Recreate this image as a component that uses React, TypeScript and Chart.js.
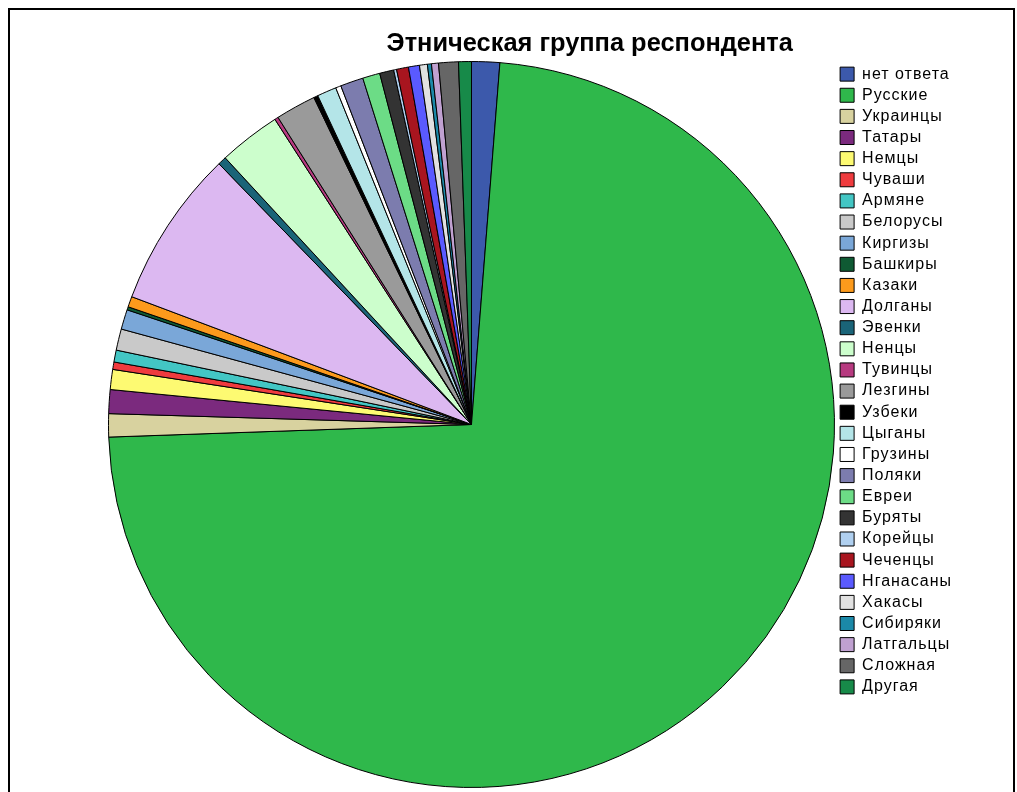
import React, { useEffect, useRef } from "react";
import { Chart, registerables } from "chart.js";

Chart.register(...registerables);

const TITLE = "Этническая группа респондента";

const categories = [
  "нет ответа", "Русские", "Украинцы", "Татары", "Немцы", "Чуваши", "Армяне",
  "Белорусы", "Киргизы", "Башкиры", "Казаки", "Долганы", "Эвенки", "Ненцы",
  "Тувинцы", "Лезгины", "Узбеки", "Цыганы", "Грузины", "Поляки", "Евреи",
  "Буряты", "Корейцы", "Чеченцы", "Нганасаны", "Хакасы", "Сибиряки",
  "Латгальцы", "Сложная", "Другая",
];

const values = [
  1.25, 73.22, 1.03, 1.06, 0.89, 0.33, 0.53,
  0.95, 0.88, 0.14, 0.47, 7.03, 0.38, 2.76,
  0.16, 1.8, 0.19, 0.86, 0.24, 1.02, 0.77,
  0.63, 0.13, 0.53, 0.49, 0.35, 0.18,
  0.31, 0.88, 0.57,
];

const colors = [
  "#3c59ab", "#2fb84b", "#d8d29f", "#7b2a7e", "#fdfa72", "#ef3b3e", "#43c6c4",
  "#c9c9c9", "#7aa7d8", "#0f5a33", "#fc9a1c", "#dcb8f1", "#1a6478", "#ccfecc",
  "#b73a80", "#9a9a9a", "#000000", "#b4e5e8", "#ffffff", "#7c7cae", "#6cdc86",
  "#333333", "#b0d0f0", "#a8151f", "#5a5aff", "#e1e1e1", "#1b89a8",
  "#c0a1d1", "#666666", "#178a49",
];

const titlePlugin = {
  id: "customTitle",
  afterDraw(chart: any) {
    const ctx = chart.ctx;
    ctx.save();
    (ctx as any).letterSpacing = "0px";
    ctx.font = "bold 25.4px 'Liberation Sans', Arial, sans-serif";
    ctx.fillStyle = "#000";
    ctx.textAlign = "center";
    ctx.textBaseline = "alphabetic";
    ctx.fillText(TITLE, chart.width * 0.578, 41);
    ctx.restore();
  },
};

const legendSpacingPlugin = {
  id: "legendSpacing",
  beforeLayout(chart: any) {
    (chart.ctx as any).letterSpacing = "1px";
  },
  afterLayout(chart: any) {
    (chart.ctx as any).letterSpacing = "0px";
  },
  beforeDraw(chart: any) {
    (chart.ctx as any).letterSpacing = "1px";
  },
  beforeDatasetsDraw(chart: any) {
    (chart.ctx as any).letterSpacing = "0px";
  },
};

export default function App() {
  const ref = useRef<HTMLCanvasElement>(null);

  useEffect(() => {
    if (!ref.current) return;
    const chart = new Chart(ref.current, {
      type: "pie",
      data: {
        labels: categories,
        datasets: [
          {
            data: values,
            backgroundColor: colors,
            borderColor: "#000000",
            borderWidth: 1,
          },
        ],
      },
      options: {
        responsive: false,
        animation: false,
        layout: { padding: { left: 98, right: 51, top: 51, bottom: 4 } },
        plugins: {
          title: { display: false },
          tooltip: { enabled: false },
          legend: {
            position: "right",
            align: "start",
            labels: {
              color: "#000000",
              boxWidth: 14,
              boxHeight: 14,
              padding: 5.13,
              font: { family: "'Liberation Sans', Arial, sans-serif", size: 16 },
            },
          },
        },
      },
      plugins: [titlePlugin, legendSpacingPlugin],
    });
    return () => chart.destroy();
  }, []);

  return (
    <div
      style={{
        position: "fixed",
        left: 0,
        top: 0,
        width: 1017,
        height: 792,
        overflow: "hidden",
        background: "#ffffff",
      }}
    >
      <div
        style={{
          position: "absolute",
          left: 8,
          top: 8,
          width: 1003,
          height: 900,
          border: "2px solid #000000",
          background: "#ffffff",
        }}
      >
        <canvas
          ref={ref}
          width={1003}
          height={782}
          style={{ position: "absolute", left: 0, top: 0, width: 1003, height: 782 }}
        />
      </div>
    </div>
  );
}
